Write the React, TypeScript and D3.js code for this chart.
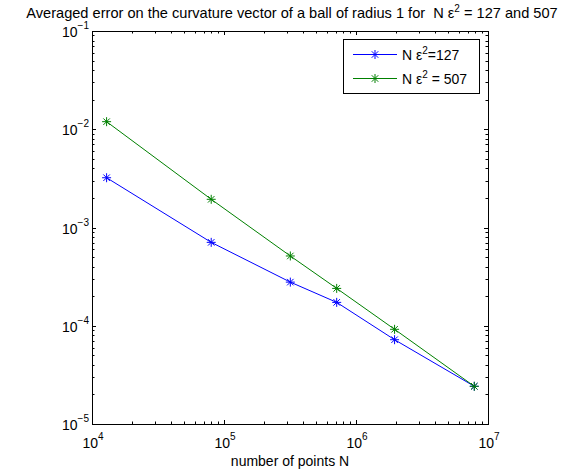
import React from "react";
import * as d3 from "d3";

const pointsN = [12900, 80000, 318000, 714000, 1960000, 7870000];
const err127 = [0.00321, 0.000706, 0.000278, 0.000173, 0.0000721, 0.0000242];
const err507 = [0.01194, 0.001936, 0.000513, 0.00024, 0.000092, 0.0000242];
const xTickExps = [4, 5, 6, 7];
const yTickExps = [-5, -4, -3, -2, -1];

const W = 581, H = 472;
const L = 92, R = 488, T = 31, B = 424;
const FONT = "Liberation Sans, Arial, Helvetica, sans-serif";

function Star({ x, y, color }: { x: number; y: number; color: string }) {
  const s = 4.5;
  const d = s * 0.72;
  return (
    <g stroke={color} strokeWidth={1}>
      <line x1={x - s} y1={y} x2={x + s} y2={y} />
      <line x1={x} y1={y - s} x2={x} y2={y + s} />
      <line x1={x - d} y1={y - d} x2={x + d} y2={y + d} />
      <line x1={x - d} y1={y + d} x2={x + d} y2={y - d} />
    </g>
  );
}

export default function App() {
  const x = d3.scaleLog().domain([1e4, 1e7]).range([L, R]);
  const y = d3.scaleLog().domain([1e-5, 1e-1]).range([B, T]);
  const line = d3
    .line<[number, number]>()
    .x((d) => x(d[0]))
    .y((d) => y(d[1]));
  const s127: [number, number][] = pointsN.map((n, i) => [n, err127[i]]);
  const s507: [number, number][] = pointsN.map((n, i) => [n, err507[i]]);

  const xMinor: number[] = [];
  for (let e = 4; e < 7; e++) for (let k = 2; k <= 9; k++) xMinor.push(k * Math.pow(10, e));
  const yMinor: number[] = [];
  for (let e = -5; e < -1; e++) for (let k = 2; k <= 9; k++) yMinor.push(k * Math.pow(10, e));

  const major = 4, minor = 2.5;
  const blue = "#0000ff", green = "#008000";

  return (
    <svg width={W} height={H} style={{ position: "absolute", left: 0, top: 0 }} fontFamily={FONT}>
      <rect width={W} height={H} fill="#fff" />
      <text x={292} y={18} textAnchor="middle" fontSize={14.6} style={{ whiteSpace: "pre" }}>
        {"Averaged error on the curvature vector of a ball of radius 1 for \u00a0N ε"}
        <tspan dy={-6} fontSize={10}>2</tspan>
        <tspan dy={6}> = 127 and 507</tspan>
      </text>

      <g stroke="#000" strokeWidth={1}>
        {xTickExps.map((e) => {
          const px = Math.round(x(Math.pow(10, e))) + 0.5;
          return (
            <g key={"xm" + e}>
              <line x1={px} y1={B} x2={px} y2={B - major} />
              <line x1={px} y1={T} x2={px} y2={T + major} />
            </g>
          );
        })}
        {xMinor.map((v, i) => {
          const px = Math.round(x(v)) + 0.5;
          return (
            <g key={"xn" + i}>
              <line x1={px} y1={B} x2={px} y2={B - minor} />
              <line x1={px} y1={T} x2={px} y2={T + minor} />
            </g>
          );
        })}
        {yTickExps.map((e) => {
          const py = Math.round(y(Math.pow(10, e))) + 0.5;
          return (
            <g key={"ym" + e}>
              <line x1={L} y1={py} x2={L + major} y2={py} />
              <line x1={R} y1={py} x2={R - major} y2={py} />
            </g>
          );
        })}
        {yMinor.map((v, i) => {
          const py = Math.round(y(v)) + 0.5;
          return (
            <g key={"yn" + i}>
              <line x1={L} y1={py} x2={L + minor} y2={py} />
              <line x1={R} y1={py} x2={R - minor} y2={py} />
            </g>
          );
        })}
      </g>

      <path d={line(s127) || ""} fill="none" stroke={blue} strokeWidth={1} />
      <path d={line(s507) || ""} fill="none" stroke={green} strokeWidth={1} />
      {s127.map((d, i) => (
        <Star key={"b" + i} x={x(d[0])} y={y(d[1])} color={blue} />
      ))}
      {s507.map((d, i) => (
        <Star key={"g" + i} x={x(d[0])} y={y(d[1])} color={green} />
      ))}

      <rect x={L + 0.5} y={T + 0.5} width={R - L} height={B - T} fill="none" stroke="#000" strokeWidth={1} />

      {xTickExps.map((e) => (
        <text key={"xl" + e} x={x(Math.pow(10, e)) + 1} y={448} textAnchor="middle" fontSize={14}>
          10<tspan dy={-8} fontSize={10}>{e}</tspan>
        </text>
      ))}
      {yTickExps.map((e) => (
        <text key={"yl" + e} x={89} y={y(Math.pow(10, e)) + 6} textAnchor="end" fontSize={14}>
          10<tspan dy={-8} fontSize={10}>{"\u2212" + Math.abs(e)}</tspan>
        </text>
      ))}
      <text x={290} y={466} textAnchor="middle" fontSize={14}>number of points N</text>

      <g>
        <rect x={343.5} y={39.5} width={136} height={54} fill="#fff" stroke="#000" strokeWidth={1} />
        <line x1={353} y1={54.5} x2={397} y2={54.5} stroke={blue} />
        <Star x={375} y={54.5} color={blue} />
        <text x={402} y={59.5} fontSize={14}>
          N ε<tspan dy={-6} fontSize={10}>2</tspan><tspan dy={6}>=127</tspan>
        </text>
        <line x1={353} y1={78.5} x2={397} y2={78.5} stroke={green} />
        <Star x={375} y={78.5} color={green} />
        <text x={402} y={83.5} fontSize={14}>
          N ε<tspan dy={-6} fontSize={10}>2</tspan><tspan dy={6}> = 507</tspan>
        </text>
      </g>
    </svg>
  );
}
